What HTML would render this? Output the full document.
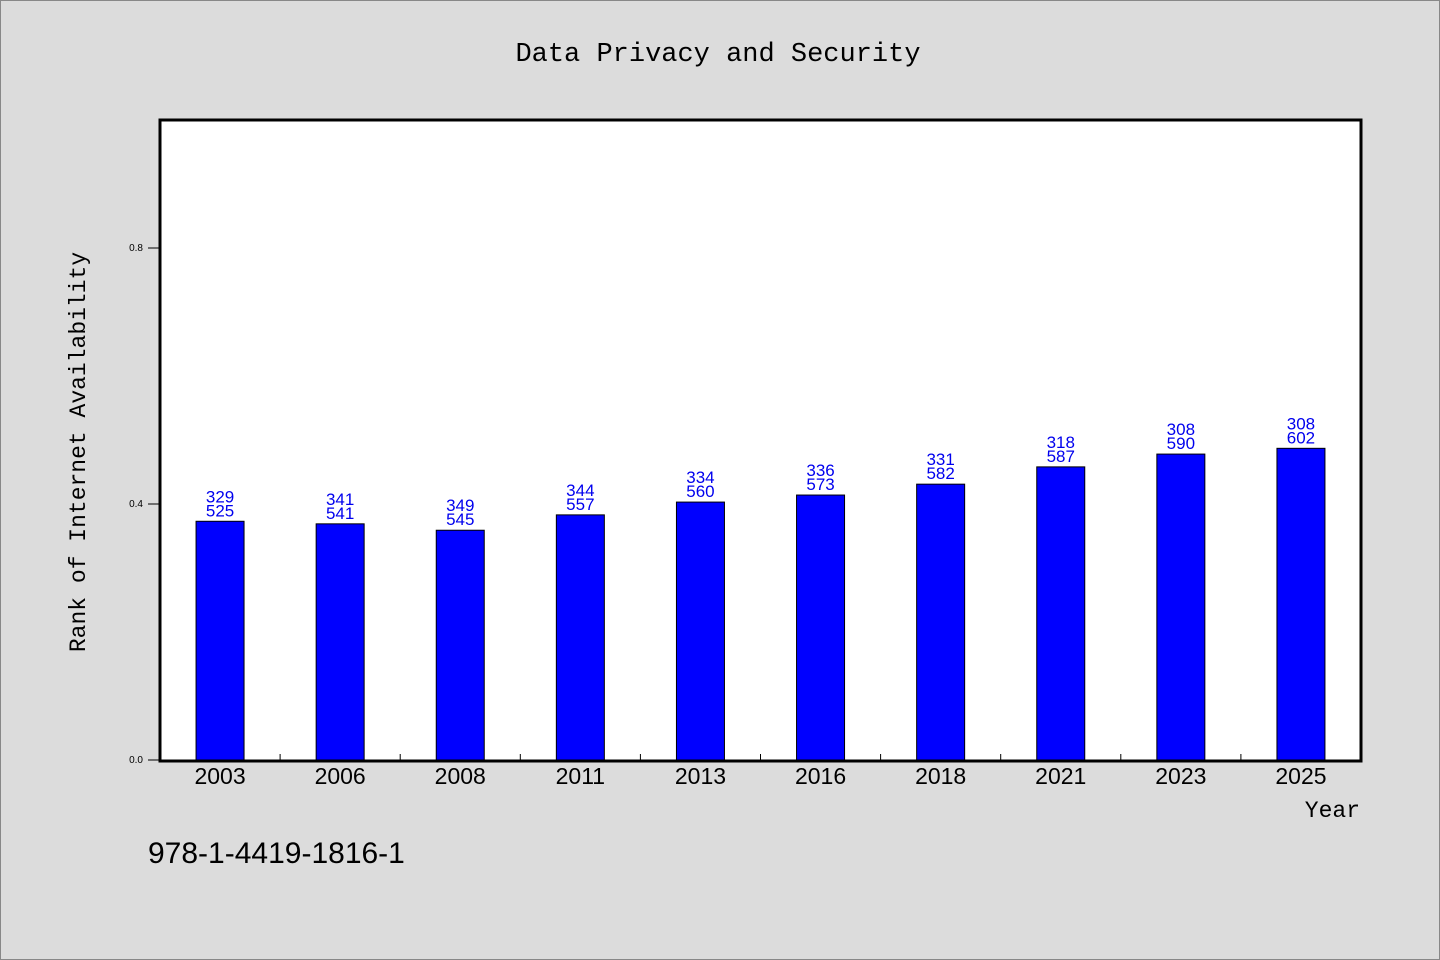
<!DOCTYPE html>
<html><head><meta charset="utf-8"><style>
body{margin:0;background:#dcdcdc;}
svg{display:block;font-family:"WenQuanYi Zen Hei","Liberation Sans",sans-serif;}
</style></head><body>
<svg id="chart" width="1440" height="960" viewBox="0 0 1440 960">
<rect x="0.5" y="0.5" width="1439" height="959" fill="#dcdcdc" stroke="#888"/>
<text x="718" y="61" text-anchor="middle" font-size="27" font-family="Liberation Mono, monospace">Data Privacy and Security</text>
<rect x="160" y="120" width="1201" height="641" fill="#fff"/>
<g id="bars"></g>
<rect x="160" y="120" width="1201" height="641" fill="none" stroke="#000" stroke-width="3"/>
<g id="axes"></g>
<text transform="translate(85,452) rotate(-90)" text-anchor="middle" font-size="23" font-family="Liberation Mono, monospace">Rank of Internet Availability</text>
<text x="1360" y="817" text-anchor="end" font-size="23" font-family="Liberation Mono, monospace">Year</text>
<text x="148" y="863" font-size="30">978-1-4419-1816-1</text>
</svg>
<script>
const categories=["2003","2006","2008","2011","2013","2016","2018","2021","2023","2025"];
const values=[0.373,0.369,0.359,0.383,0.403,0.414,0.431,0.458,0.478,0.487];
const labelTop=[329,341,349,344,334,336,331,318,308,308];
const labelBottom=[525,541,545,557,560,573,582,587,590,602];
const yTicks=[0.0,0.4,0.8];
const NS="http://www.w3.org/2000/svg";
const x0=160,x1=1361,yBase=760,yTop=120;
const step=(x1-x0)/categories.length;
const xc=i=>x0+step*(i+0.5);
const y=v=>yBase-(v/1.0)*(yBase-yTop);
function mk(tag,attrs,parent){const e=document.createElementNS(NS,tag);for(const k in attrs)e.setAttribute(k,attrs[k]);parent.appendChild(e);return e;}
const bars=document.getElementById('bars'),axes=document.getElementById('axes');
categories.forEach((c,i)=>{
  const r=mk('rect',{x:xc(i)-24,y:y(values[i]),width:48,height:yBase-y(values[i]),fill:'#0000ff',stroke:'#000','stroke-width':1},bars);
  
  
  const t1=mk('text',{x:xc(i),y:y(values[i])-19,'text-anchor':'middle','font-size':17,fill:'#0000ee'},bars);
  t1.textContent=labelTop[i];
  
  
  const t2=mk('text',{x:xc(i),y:y(values[i])-5,'text-anchor':'middle','font-size':17,fill:'#0000ee'},bars);
  t2.textContent=labelBottom[i];
  
  
  const xl=mk('text',{x:xc(i),y:784,'text-anchor':'middle','font-size':23},axes);
  xl.textContent=c;
  
  
  if(i>0){
    const tk=mk('line',{x1:x0+step*i,x2:x0+step*i,y1:yBase,y2:yBase-6,stroke:'#000','stroke-width':1},axes);
    
    
  }
});
yTicks.forEach(v=>{
  const l=mk('line',{x1:148,x2:159,y1:y(v),y2:y(v),stroke:'#000','stroke-width':1},axes);
  
  
  const t=mk('text',{x:143,y:y(v)+3,'text-anchor':'end','font-size':10},axes);
  t.textContent=v.toFixed(1);
  
  
});
</script>
</body></html>
